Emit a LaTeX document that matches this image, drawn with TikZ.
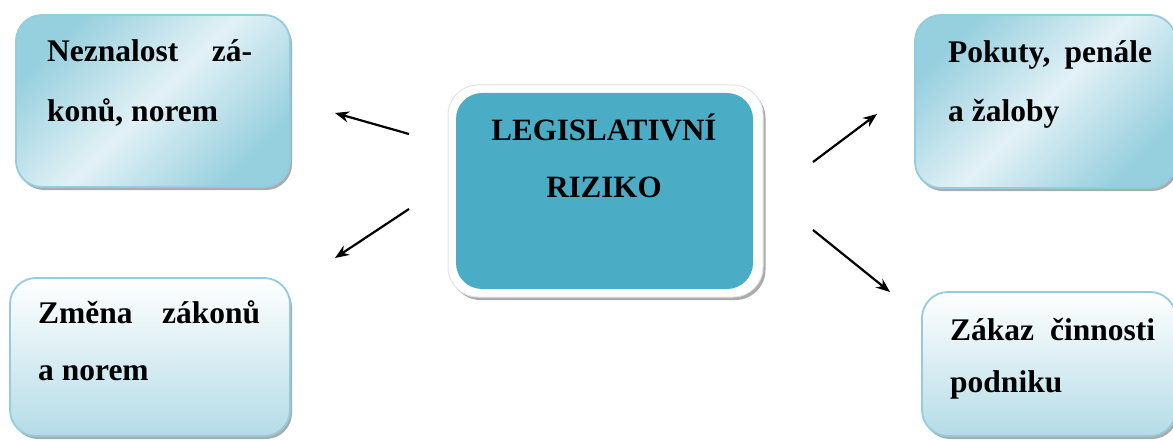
\documentclass[tikz,border=0pt]{standalone}
\usepackage{fontspec}
\setmainfont{Liberation Serif}
\usetikzlibrary{arrows.meta,shadows}
\definecolor{rim}{HTML}{93CDDD}
\definecolor{aquadark}{HTML}{96CFDE}
\definecolor{aqualight}{HTML}{E2F1F6}
\definecolor{aquabottom}{HTML}{B4DCE7}
\definecolor{corefill}{HTML}{4BACC6}
\definecolor{coreedge}{HTML}{E3E3E3}
\begin{document}
\begin{tikzpicture}[x=1pt,y=1pt,
  box/.style={rectangle, rounded corners=26pt, draw=rim, line width=1.8pt, inner sep=0pt,
    drop shadow={shadow xshift=2pt, shadow yshift=-3pt, fill=black!55, opacity=.6}},
  diagbox/.style={box, top color=aquadark, bottom color=aquadark, middle color=aqualight, shading angle=45},
  vertbox/.style={box, top color=white, bottom color=aquabottom},
  txt/.style={anchor=base west, inner sep=0pt, font=\fontsize{31.5}{36}\selectfont\bfseries},
  ctxt/.style={anchor=base, inner sep=0pt, font=\fontsize{31}{36}\selectfont\bfseries},
  arr/.style={line width=2.2pt, -{Stealth[length=14pt,width=11pt]}}]
\useasboundingbox (0,0) rectangle (1173,-441);

% outer boxes
\node[diagbox, minimum width=274, minimum height=172] (tl) at (153,-101) {};
\node[vertbox, minimum width=280, minimum height=158] (bl) at (150,-357) {};
\node[diagbox, minimum width=261, minimum height=173] (tr) at (1045.5,-101.5) {};
\node[vertbox, minimum width=254, minimum height=144] (br) at (1049,-364) {};

% central box: white frame with blue core
\node[rectangle, rounded corners=30pt, fill=white, draw=coreedge, line width=1pt,
  minimum width=315, minimum height=212, inner sep=0pt,
  drop shadow={shadow xshift=2.5pt, shadow yshift=-3pt, fill=black!60, opacity=.55}] (frame) at (605.5,-191) {};
\node[rectangle, rounded corners=26pt, fill=corefill, minimum width=297, minimum height=196, inner sep=0pt] (core) at (604.5,-191) {};

% texts
\node[ctxt] (c1) at (604,-141) {LEGISLATIVNÍ};
\node[ctxt] (c2) at (604,-197) {RIZIKO};

\node[txt] (tl1) at (47,-62) {\makebox[205pt][s]{Neznalost zá-}};
\node[txt] (tl2) at (47,-122) {konů, norem};

\node[txt] (bl1) at (38,-323) {\makebox[222pt][s]{Změna zákonů}};
\node[txt] (bl2) at (38,-380) {a norem};

\node[txt] (tr1) at (948,-63) {\makebox[204pt][s]{Pokuty, penále}};
\node[txt] (tr2) at (948,-122) {a žaloby};

\node[txt] (br1) at (950,-340) {\makebox[205pt][s]{Zákaz činnosti}};
\node[txt] (br2) at (950,-392) {podniku};

% arrow ends
\coordinate (s1) at (409,-134); \coordinate (e1) at (335,-113);
\coordinate (s2) at (409,-209); \coordinate (e2) at (335,-258);
\coordinate (s3) at (813,-162); \coordinate (e3) at (877,-114);
\coordinate (s4) at (813,-230); \coordinate (e4) at (890,-292);

\draw[arr] (s1) -- (e1);
\draw[arr] (s2) -- (e2);
\draw[arr] (s3) -- (e3);
\draw[arr] (s4) -- (e4);
\end{tikzpicture}
\end{document}
